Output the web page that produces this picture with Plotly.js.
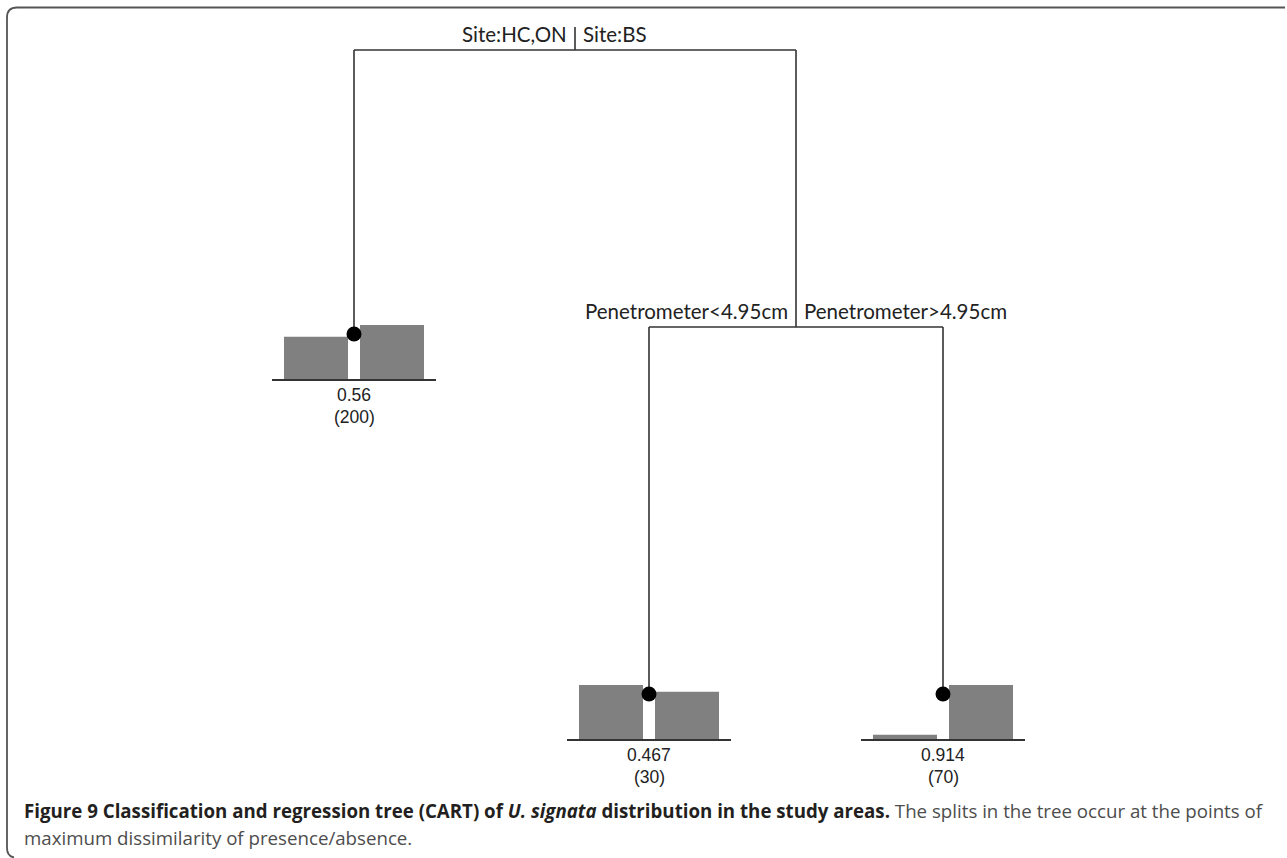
<!DOCTYPE html>
<html>
<head>
<meta charset="utf-8">
<script src="https://cdn.plot.ly/plotly-3.0.1.min.js"></script>
<style>html,body{margin:0;padding:0;background:#fff;}#chart{width:1287px;height:858px;}</style>
</head>
<body>
<div id="chart"></div>
<script>
// ---- data ----
const splitLeftLabels = ["Site:HC,ON", "Penetrometer<4.95cm"];
const splitRightLabels = ["Site:BS", "Penetrometer>4.95cm"];
const leafFitted = [0.56, 0.467, 0.914];   // proportion present in each leaf
const leafN = [200, 30, 70];               // observations in each leaf
const captionBold = "Figure 9 Classification and regression tree (CART) of <i>U. signata</i> distribution in the study areas.";
const captionRest1 = " The splits in the tree occur at the points of";
const captionLine2 = "maximum dissimilarity of presence/absence.";

// ---- layout geometry (pixel space, y measured from top) ----
const W = 1287, H = 858;
const Y = p => H - p;
const splitX = [575, 796];      // centre of each split bar
const splitY = [50, 327];
const splitHalf = [221, 147];
const leafX = [354, 649, 943];
const leafBase = [380, 740, 740];
const dotUp = 46, barW = 64, barOff = 38, barMax = 55, baseHalf = 82;

// tree edges
const ex = [], ey = [];
function seg(x1, y1, x2, y2) { ex.push(x1, x2, null); ey.push(Y(y1), Y(y2), null); }
// root split
seg(splitX[0] - splitHalf[0], splitY[0], splitX[0] + splitHalf[0], splitY[0]);
seg(splitX[0], 27, splitX[0], splitY[0]);
seg(leafX[0], splitY[0], leafX[0], leafBase[0] - dotUp);
seg(splitX[0] + splitHalf[0], splitY[0], splitX[0] + splitHalf[0], splitY[1]);
// second split
seg(splitX[1] - splitHalf[1], splitY[1], splitX[1] + splitHalf[1], splitY[1]);
seg(leafX[1], splitY[1], leafX[1], leafBase[1] - dotUp);
seg(leafX[2], splitY[1], leafX[2], leafBase[2] - dotUp);

// baselines
const bx = [], by = [];
leafX.forEach((x, i) => { bx.push(x - baseHalf, x + baseHalf, null); by.push(Y(leafBase[i]), Y(leafBase[i]), null); });

// bars: absence (left) and presence (right), scaled to the taller bar of each leaf
const barX = [], barH = [], barBase = [];
leafFitted.forEach((p, i) => {
  const a = 1 - p, m = Math.max(a, p);
  barX.push(leafX[i] - barOff, leafX[i] + barOff);
  barH.push(a / m * barMax, p / m * barMax);
  barBase.push(Y(leafBase[i]), Y(leafBase[i]));
});

const traces = [
  { type: 'bar', x: barX, y: barH, base: barBase, width: barW,
    marker: { color: '#808080', line: { width: 0 } }, hoverinfo: 'skip' },
  { type: 'scatter', mode: 'lines', x: ex, y: ey, line: { color: '#333333', width: 1.6 }, hoverinfo: 'skip' },
  { type: 'scatter', mode: 'lines', x: bx, y: by, line: { color: '#333333', width: 2 }, hoverinfo: 'skip' },
  { type: 'scatter', mode: 'markers', x: leafX, y: leafX.map((x, i) => Y(leafBase[i] - dotUp)),
    marker: { color: '#000000', size: 15 }, hoverinfo: 'skip' }
];

const treeFont = { family: 'Lato, "Open Sans", sans-serif', size: 20.5, color: '#222222' };
const numFont = { family: '"Liberation Sans", Arial, sans-serif', size: 17.5, color: '#222222' };
const ann = [];
splitLeftLabels.forEach((t, i) => {
  ann.push({ x: splitX[i] - 6, y: Y(splitY[i] - 16), text: t, xanchor: 'right', yanchor: 'middle', showarrow: false, font: treeFont });
  ann.push({ x: splitX[i] + 6, y: Y(splitY[i] - 16), text: splitRightLabels[i], xanchor: 'left', yanchor: 'middle', showarrow: false, font: treeFont });
});
leafX.forEach((x, i) => {
  ann.push({ x: x, y: Y(leafBase[i] + 26), text: String(leafFitted[i]), xanchor: 'center', yanchor: 'bottom', borderpad: 0, showarrow: false, font: numFont });
  ann.push({ x: x, y: Y(leafBase[i] + 26), text: '(' + leafN[i] + ')', xanchor: 'center', yanchor: 'top', borderpad: 0, showarrow: false, font: numFont });
});
const capFont = { family: '"Open Sans", "Noto Sans", sans-serif', size: 18.7, color: '#4d4d4d' };
ann.push({ x: 22, y: Y(810), text: '<b><span style="color:#231f20">' + captionBold + '</span></b>' + captionRest1,
  xanchor: 'left', yanchor: 'middle', showarrow: false, font: capFont });
ann.push({ x: 22, y: Y(837), text: captionLine2, xanchor: 'left', yanchor: 'middle', showarrow: false, font: capFont });

const layout = {
  width: W, height: H,
  margin: { l: 0, r: 0, t: 0, b: 0 },
  paper_bgcolor: '#ffffff', plot_bgcolor: '#ffffff',
  showlegend: false,
  xaxis: { range: [0, W], visible: false, fixedrange: true },
  yaxis: { range: [0, H], visible: false, fixedrange: true },
  annotations: ann,
  shapes: [
    { type: 'path', xref: 'x', yref: 'y', path: `M ${W - 2},${Y(7.5)} L 17,${Y(7.5)} Q 7,${Y(7.5)} 7,${Y(17.5)} L 7,${Y(848)} Q 7,${Y(856)} 14,${Y(857.5)}`,
      line: { color: '#555555', width: 1.8 } }
  ]
};

Plotly.newPlot('chart', traces, layout, { displayModeBar: false, staticPlot: true });
</script>
</body>
</html>
